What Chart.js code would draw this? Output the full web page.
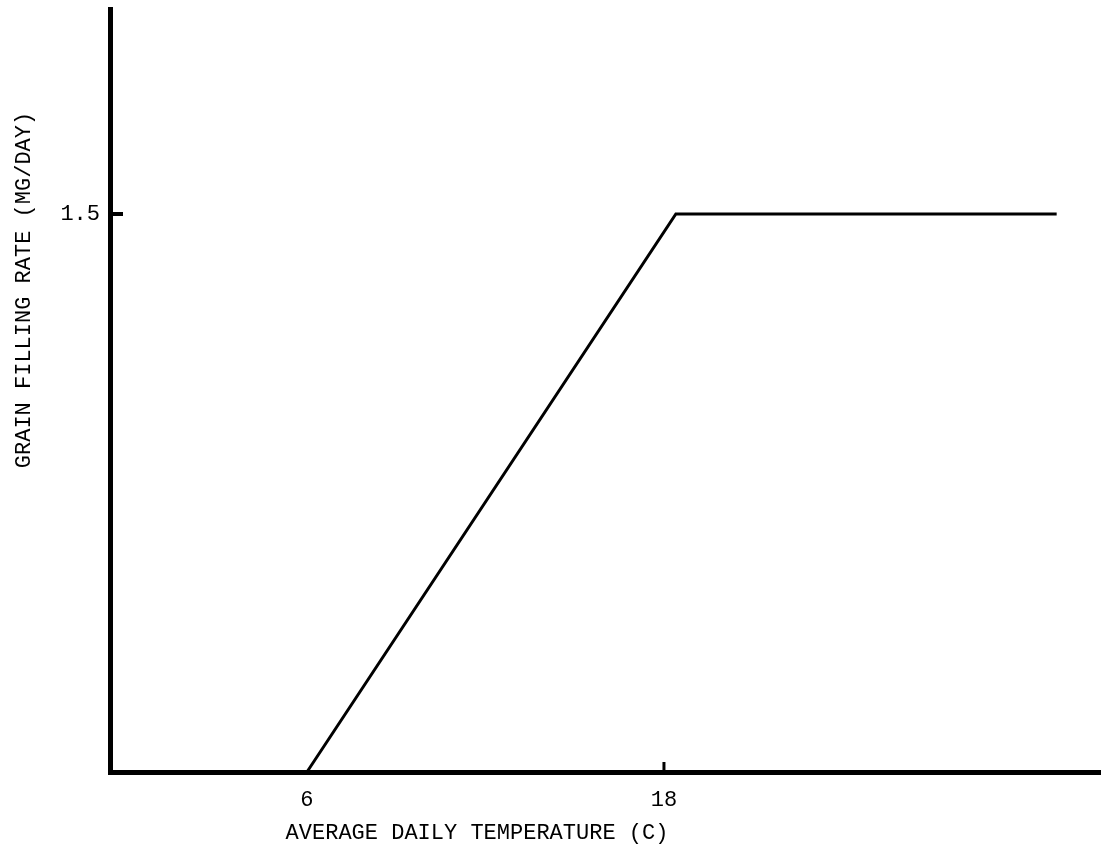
<!DOCTYPE html>
<html>
<head>
<meta charset="utf-8">
<script src="https://cdn.jsdelivr.net/npm/chart.js@4.4.0/dist/chart.umd.min.js"></script>
<style>
  html, body { margin: 0; padding: 0; background: #fff; }
  #wrap { width: 1101px; height: 851px; }
</style>
</head>
<body>
<div id="wrap"><canvas id="grainChart" width="1101" height="851"></canvas></div>
<script>
// data
const tempValues = [6, 18.4, 31.2];
const rateValues = [0, 1.5, 1.5];
const xTickValues = [6, 18];
const yTickValues = [1.5];
const xTitle = 'AVERAGE DAILY TEMPERATURE (C)';
const yTitle = 'GRAIN FILLING RATE (MG/DAY)';

const FONT = '"Liberation Mono", "DejaVu Sans Mono", monospace';
const INK = '#000';

// small tick marks drawn inwards from the axes, plus the typed axis titles
const paperMarks = {
    id: 'paperMarks',
    afterDatasetsDraw(chart) {
        const { ctx, scales: { x, y }, chartArea } = chart;
        ctx.save();
        ctx.strokeStyle = INK;
        ctx.lineWidth = 4;
        yTickValues.forEach(v => {
            const py = y.getPixelForValue(v);
            ctx.beginPath();
            ctx.moveTo(chartArea.left, py);
            ctx.lineTo(chartArea.left + 13, py);
            ctx.stroke();
        });
        ctx.lineWidth = 3;
        xTickValues.filter(v => !tempValues.includes(v)).forEach(v => {
            const px = x.getPixelForValue(v);
            ctx.beginPath();
            ctx.moveTo(px, chartArea.bottom);
            ctx.lineTo(px, chartArea.bottom - 10);
            ctx.stroke();
        });

        ctx.fillStyle = INK;
        ctx.font = '22px ' + FONT;
        ctx.textAlign = 'center';
        ctx.textBaseline = 'middle';
        ctx.fillText(xTitle, 477, 833);

        ctx.translate(24, 290);
        ctx.rotate(-Math.PI / 2);
        ctx.fillText(yTitle, 0, 0);
        ctx.restore();
    }
};

function noEdgePadding(s) {
    s.paddingTop = 0;
    s.paddingBottom = 0;
    s.paddingLeft = 0;
    s.paddingRight = 0;
}

const ctx = document.getElementById('grainChart').getContext('2d');
new Chart(ctx, {
    type: 'scatter',
    data: {
        datasets: [{
            data: tempValues.map((t, i) => ({ x: t, y: rateValues[i] })),
            showLine: true,
            borderColor: INK,
            borderWidth: 3,
            pointRadius: 0,
            tension: 0,
            clip: false
        }]
    },
    options: {
        responsive: false,
        animation: false,
        layout: { autoPadding: false, padding: { top: 9, right: 0, left: 0, bottom: 0 } },
        plugins: { legend: { display: false }, tooltip: { enabled: false } },
        scales: {
            x: {
                type: 'linear',
                min: -0.62,
                max: 32.69,
                afterBuildTicks: s => { s.ticks = xTickValues.map(v => ({ value: v })); },
                afterFit: s => { s.height = 79; noEdgePadding(s); },
                grid: { display: false, drawTicks: false },
                border: { display: true, color: INK, width: 5 },
                ticks: { color: INK, font: { family: FONT, size: 22 }, padding: 15, maxRotation: 0, autoSkip: false }
            },
            y: {
                type: 'linear',
                min: 0,
                max: 2.051,
                afterBuildTicks: s => { s.ticks = yTickValues.map(v => ({ value: v })); },
                afterFit: s => { s.width = 110; noEdgePadding(s); },
                grid: { display: false, drawTicks: false },
                border: { display: true, color: INK, width: 5 },
                ticks: { color: INK, font: { family: FONT, size: 22 }, padding: 10, callback: v => v.toFixed(1) }
            }
        }
    },
    plugins: [paperMarks]
});
</script>
</body>
</html>
